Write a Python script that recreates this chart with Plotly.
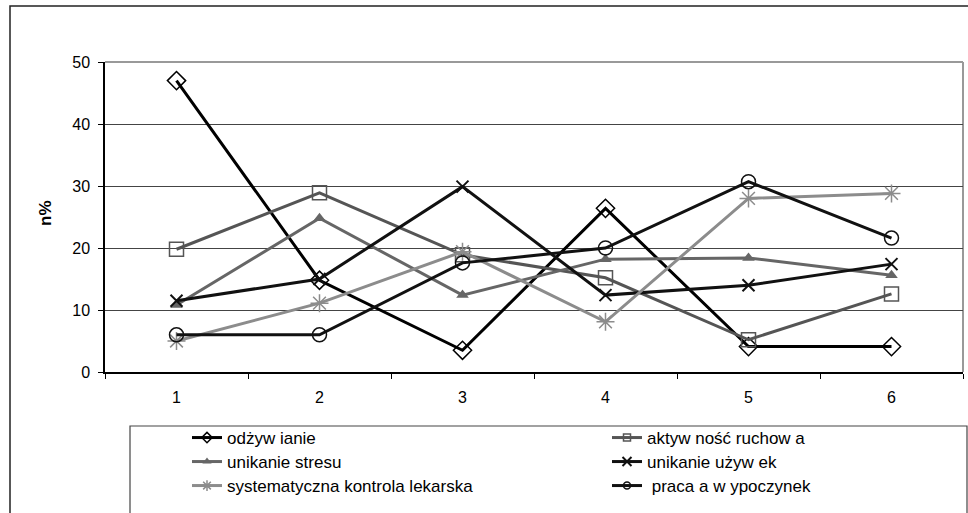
import plotly.graph_objects as go

categories = [1, 2, 3, 4, 5, 6]
tick_labels = ["1", "2", "3", "4", "5", "6"]

odzywianie = [47.0, 14.8, 3.5, 26.4, 4.1, 4.1]
aktywnosc = [19.8, 28.9, 18.9, 15.2, 5.2, 12.6]
stres = [10.8, 24.8, 12.4, 18.2, 18.4, 15.6]
uzywki = [11.5, 15.0, 29.9, 12.4, 14.0, 17.4]
kontrola = [5.0, 11.1, 19.4, 8.1, 28.0, 28.8]
praca = [6.0, 6.0, 17.6, 20.0, 30.7, 21.6]

names = ["odżyw ianie", "aktyw ność ruchow a", "unikanie stresu",
         "unikanie używ ek", "systematyczna kontrola lekarska", " praca a w ypoczynek"]

FONT = "Liberation Sans, Arial, sans-serif"

series = [
    (odzywianie, names[0], "#000000", "diamond-open", 14, 8),
    (aktywnosc, names[1], "#555555", "square-open", 14, 7),
    (stres, names[2], "#666666", "triangle-up", 11, 8),
    (uzywki, names[3], "#111111", "x-thin-open", 12, 9),
    (kontrola, names[4], "#8c8c8c", "asterisk-open", 15, 9),
    (praca, names[5], "#111111", "circle-open", 14, 7),
]

W, H = 968, 513
L, R, T, B = 105, 5, 62, 141
pw = W - L - R
ph = H - T - B


def px(x):
    return (x - L) / pw


def py(y):
    return (H - B - y) / ph


def mk(sym, col, size):
    if sym == "triangle-up":
        return dict(symbol=sym, size=size, color=col, line=dict(width=0))
    lw = 2 if sym == "x-thin-open" else 1.5
    return dict(symbol=sym, size=size, line=dict(width=lw, color=col))


fig = go.Figure()
for vals, nm, col, sym, s_plot, s_leg in series:
    fig.add_trace(go.Scatter(
        x=categories, y=vals, name=nm, mode="lines+markers",
        line=dict(color=col, width=3), marker=mk(sym, col, s_plot),
        showlegend=False,
    ))

legend_ids = ["legend", "legend2", "legend3", "legend4", "legend5", "legend6"]
for i, (vals, nm, col, sym, s_plot, s_leg) in enumerate(series):
    fig.add_trace(go.Scatter(
        x=[None], y=[None], name=nm, mode="lines+markers",
        line=dict(color=col, width=3), marker=mk(sym, col, s_leg),
        showlegend=True, legend=legend_ids[i],
    ))

col_x = [187, 607]
row_y = [438, 462, 486]
legend_layout = {}
for i, lid in enumerate(legend_ids):
    cx = col_x[i % 2]
    cy = row_y[i // 2]
    legend_layout[lid] = dict(
        xref="container", yref="container",
        x=cx / W, y=1 - cy / H, xanchor="left", yanchor="middle",
        font=dict(family=FONT, size=17, color="#000000"),
        bgcolor="rgba(0,0,0,0)", borderwidth=0,
    )

shapes = [
    dict(type="rect", xref="paper", yref="paper", x0=px(10), x1=px(972), y0=py(6), y1=py(520),
         line=dict(color="#222222", width=1.5), fillcolor="rgba(0,0,0,0)", layer="below"),
    dict(type="line", xref="paper", yref="paper", x0=0, x1=1, y0=1, y1=1,
         line=dict(color="#999999", width=2), layer="below"),
    dict(type="line", xref="paper", yref="paper", x0=1, x1=1, y0=0, y1=1,
         line=dict(color="#999999", width=2), layer="below"),
    dict(type="rect", xref="paper", yref="paper", x0=px(130), x1=px(967), y0=py(426), y1=py(520),
         line=dict(color="#444444", width=1.2), fillcolor="rgba(0,0,0,0)"),
]

fig.update_layout(
    width=W, height=H, autosize=False,
    margin=dict(l=L, r=R, t=T, b=B, pad=0, autoexpand=False),
    paper_bgcolor="white", plot_bgcolor="white",
    font=dict(family=FONT, size=16, color="#000000"),
    shapes=shapes,
    showlegend=True,
    annotations=[dict(
        text="<b>n%</b>", xref="paper", yref="paper", x=px(45), y=py(213),
        xanchor="center", yanchor="middle", textangle=-90, showarrow=False,
        font=dict(family=FONT, size=17, color="#000000"),
    )],
    xaxis=dict(
        range=[0.5, 6.5], tickmode="array", tickvals=categories, ticktext=tick_labels,
        ticks="", showgrid=False, zeroline=False,
        showline=True, linecolor="#000000", linewidth=1.5,
        ticklabelstandoff=10,
        minor=dict(tickmode="array", tickvals=[0.5, 1.5, 2.5, 3.5, 4.5, 5.5, 6.5],
                   ticks="outside", ticklen=5, tickcolor="#000000", tickwidth=1, showgrid=False),
        tickfont=dict(family=FONT, size=16),
        fixedrange=True,
    ),
    yaxis=dict(
        range=[0, 50], tickmode="array", tickvals=[0, 10, 20, 30, 40, 50],
        ticks="outside", ticklen=5, tickcolor="#000000",
        showgrid=True, gridcolor="#444444", gridwidth=1,
        zeroline=False, showline=True, linecolor="#000000", linewidth=1.5,
        ticklabelstandoff=5,
        tickfont=dict(family=FONT, size=16),
        fixedrange=True,
    ),
    **legend_layout,
)

fig.write_html("out.html", config={"displayModeBar": False},
               post_script="document.body.style.margin='0px';document.body.style.overflow='hidden';")
